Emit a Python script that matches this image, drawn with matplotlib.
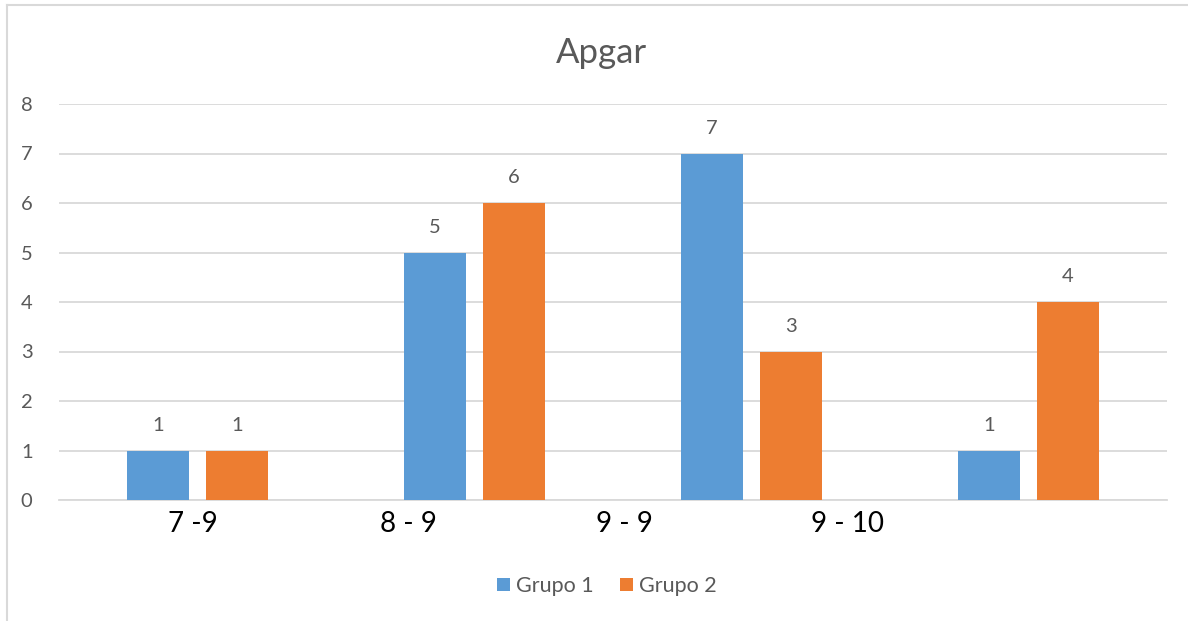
import matplotlib
matplotlib.use("Agg")
import matplotlib.pyplot as plt
from matplotlib.lines import Line2D
import numpy as np

# Chart data
categories = ["7 -9", "8 - 9", "9 - 9", "9 - 10"]
label_slots = [-0.016, 0.76, 1.543, 2.348]   # where each range label sits along the axis
grupo1 = [1, 5, 7, 1]
grupo2 = [1, 6, 3, 4]
series_names = ["Grupo 1", "Grupo 2"]
yticks = [0, 1, 2, 3, 4, 5, 6, 7, 8]

BLUE = "#5B9BD5"
ORANGE = "#ED7D31"
GRID = "#D9D9D9"
TEXT = "#595959"

plt.rcParams["font.family"] = ["Lato", "DejaVu Sans"]

fig = plt.figure(figsize=(11.88, 6.21), dpi=100)
ax = fig.add_axes([59 / 1188, 1 - 500 / 621, (1167 - 59) / 1188, (500 - 104) / 621])

x = np.arange(len(grupo1))
w = 0.224
off = 0.1426
b1 = ax.bar(x - off, grupo1, w, color=BLUE, label=series_names[0], zorder=3)
b2 = ax.bar(x + off, grupo2, w, color=ORANGE, label=series_names[1], zorder=3)

for bars in (b1, b2):
    ax.bar_label(bars, padding=12, fontsize=14.5, color=TEXT)

ax.set_xlim(-0.5, len(grupo1) - 0.5)
ax.set_ylim(0, 8)
ax.set_yticks(yticks)
ax.set_yticklabels([str(t) for t in yticks], fontsize=14.5, color=TEXT)
ax.tick_params(axis="y", length=0, pad=19)
ax.yaxis.grid(True, color=GRID, linewidth=1.3, zorder=0)

ax.set_xticks(label_slots)
ax.set_xticklabels(categories, fontsize=20, color="black")
ax.tick_params(axis="x", length=0, pad=8)

for s in ("top", "right", "left"):
    ax.spines[s].set_visible(False)
ax.spines["bottom"].set_color(GRID)
ax.spines["bottom"].set_linewidth(1.3)

fig.text(601 / 1188, 1 - 53 / 621, "Apgar", ha="center", va="center", fontsize=25, color=TEXT)

fig.legend(loc="center", bbox_to_anchor=(607 / 1188, 1 - 586 / 621), ncol=2, frameon=False,
           fontsize=15.5, labelcolor=TEXT, handlelength=0.6, handleheight=0.6,
           handletextpad=0.3, columnspacing=1.2)

# Chart area border (left and top edges)
fig.add_artist(Line2D([7 / 1188, 7 / 1188], [0, 1 - 5 / 621], transform=fig.transFigure,
                      color=GRID, linewidth=1.5))
fig.add_artist(Line2D([7 / 1188, 1], [1 - 5 / 621, 1 - 5 / 621], transform=fig.transFigure,
                      color=GRID, linewidth=1.5))

fig.savefig("out.png", dpi=100, facecolor="white")
